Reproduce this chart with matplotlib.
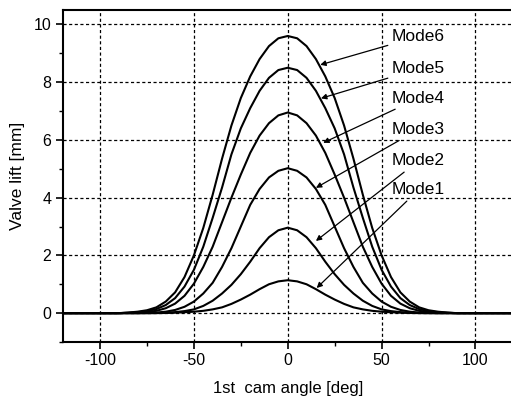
import matplotlib
matplotlib.use("Agg")
import matplotlib.pyplot as plt
from matplotlib.ticker import MultipleLocator

plt.rcParams['font.family'] = ['Liberation Sans', 'DejaVu Sans']
plt.rcParams['axes.unicode_minus'] = False

# Cam angle [deg]
angle = [-120, -90, -85, -80, -75, -70, -65, -60, -55, -50, -45, -40, -35, -30, -25, -20, -15, -10, -5,
         0, 5, 10, 15, 20, 25, 30, 35, 40, 45, 50, 55, 60, 65, 70, 75, 80, 85, 90, 120]

# Valve lift [mm]
mode1 = [0, 0, 0, 0, 0, 0, 0.005, 0.015, 0.03, 0.05, 0.08, 0.13, 0.2, 0.32, 0.47, 0.64, 0.83, 1.0, 1.1,
         1.14, 1.1, 1.0, 0.83, 0.64, 0.47, 0.32, 0.2, 0.13, 0.08, 0.05, 0.03, 0.015, 0.005, 0, 0, 0, 0, 0, 0]
mode2 = [0, 0, 0, 0, 0, 0.005, 0.015, 0.035, 0.07, 0.13, 0.25, 0.43, 0.68, 0.98, 1.35, 1.78, 2.25, 2.63, 2.87,
         2.96, 2.87, 2.63, 2.25, 1.78, 1.35, 0.98, 0.68, 0.43, 0.25, 0.13, 0.07, 0.035, 0.015, 0.005, 0, 0, 0, 0, 0]
mode3 = [0, 0, 0, 0, 0.01, 0.02, 0.05, 0.11, 0.22, 0.4, 0.68, 1.05, 1.6, 2.25, 3.0, 3.75, 4.3, 4.7, 4.93,
         5.02, 4.93, 4.7, 4.3, 3.75, 3.0, 2.25, 1.6, 1.05, 0.68, 0.4, 0.22, 0.11, 0.05, 0.02, 0.01, 0, 0, 0, 0]
mode4 = [0, 0, 0.01, 0.02, 0.04, 0.08, 0.17, 0.33, 0.6, 1.02, 1.6, 2.3, 3.15, 4.0, 4.8, 5.55, 6.15, 6.58, 6.85,
         6.95, 6.85, 6.58, 6.15, 5.55, 4.8, 4.0, 3.15, 2.3, 1.6, 1.02, 0.6, 0.33, 0.17, 0.08, 0.04, 0.02, 0.01, 0, 0]
mode5 = [0, 0, 0.01, 0.03, 0.07, 0.14, 0.28, 0.52, 0.92, 1.5, 2.3, 3.3, 4.35, 5.5, 6.4, 7.1, 7.7, 8.15, 8.42,
         8.5, 8.42, 8.15, 7.7, 7.1, 6.4, 5.5, 4.35, 3.3, 2.3, 1.5, 0.92, 0.52, 0.28, 0.14, 0.07, 0.03, 0.01, 0, 0]
mode6 = [0, 0, 0.02, 0.05, 0.1, 0.2, 0.4, 0.72, 1.25, 2.0, 2.95, 4.1, 5.35, 6.5, 7.45, 8.2, 8.8, 9.25, 9.52,
         9.6, 9.52, 9.25, 8.8, 8.2, 7.45, 6.5, 5.35, 4.1, 2.95, 2.0, 1.25, 0.72, 0.4, 0.2, 0.1, 0.05, 0.02, 0, 0]

series = [mode1, mode2, mode3, mode4, mode5, mode6]
labels = ['Mode1', 'Mode2', 'Mode3', 'Mode4', 'Mode5', 'Mode6']
# annotation text anchor (angle, lift) and arrow tip (angle, lift)
text_pos = [(55.5, 4.27), (55.5, 5.27), (55.5, 6.36), (55.5, 7.44), (55.5, 8.46), (55.5, 9.58)]
tip_pos = [(15.4, 0.87), (15.0, 2.5), (15.0, 4.34), (18.9, 5.9), (17.7, 7.44), (17.3, 8.6)]

fig = plt.figure(figsize=(5.11, 3.99), dpi=100)
ax = fig.add_axes([62.5 / 511, 1 - 342 / 399, (513 - 62.5) / 511, (342 - 10) / 399])

for ys in series:
    ax.plot(angle, ys, color='black', lw=1.5, solid_capstyle='round', solid_joinstyle='round')

for lab, tp, ap in zip(labels, text_pos, tip_pos):
    ax.annotate(lab, xy=ap, xytext=tp, fontsize=12.5, va='center', ha='left',
                arrowprops=dict(arrowstyle='-|>', color='black', lw=0.9,
                                mutation_scale=8, shrinkA=1, shrinkB=0))

ax.set_xlim(-120, 120)
ax.set_ylim(-1, 10.5)
ax.xaxis.set_major_locator(MultipleLocator(50))
ax.xaxis.set_minor_locator(MultipleLocator(25))
ax.yaxis.set_major_locator(MultipleLocator(2))
ax.yaxis.set_minor_locator(MultipleLocator(1))
ax.grid(True, which='major', color='black', linestyle=(0, (2.5, 2)), lw=0.9)
ax.tick_params(which='major', direction='out', length=5, width=1.2, labelsize=11.5, pad=3)
ax.tick_params(which='minor', direction='out', length=3, width=1.0)
for s in ax.spines.values():
    s.set_linewidth(1.5)

ax.set_xlabel('1st  cam angle [deg]', fontsize=12, labelpad=9.5)
ax.set_ylabel('Valve lift [mm]', fontsize=12.5, labelpad=6)

fig.savefig('out.png', dpi=100)
